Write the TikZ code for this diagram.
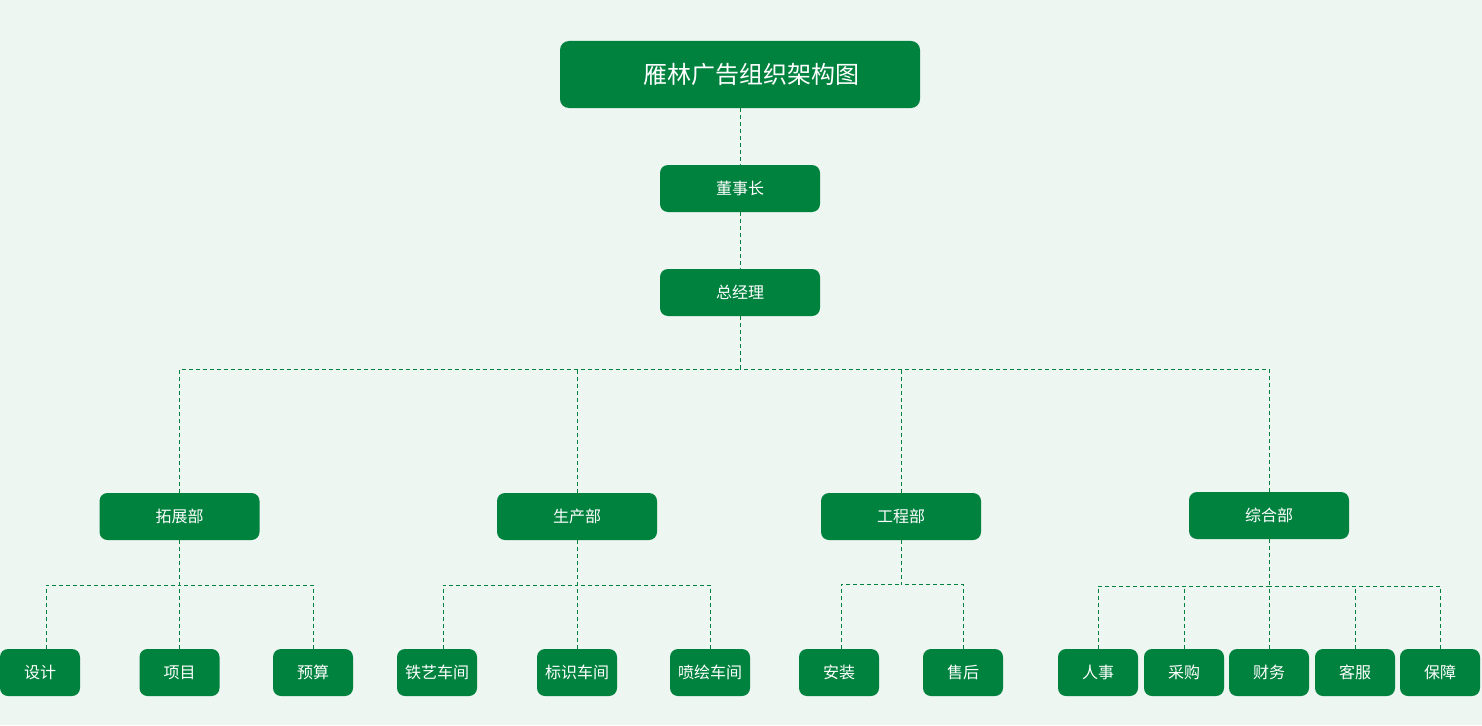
\documentclass[tikz,border=0pt]{standalone}
\usepackage{fontspec}
\setmainfont{Noto Sans CJK SC}
\usepackage{tikz}
\usetikzlibrary{calc,positioning}
\definecolor{orggreen}{HTML}{00823F}
\definecolor{bgmint}{HTML}{EDF6F0}

\begin{document}
\begin{tikzpicture}[
x=1pt,y=-1pt,
box/.style={
	fill=orggreen,
	rounded corners=8pt,
	text=white,
	minimum height=47pt,
	inner sep=0pt,
	font=\fontsize{16}{18}\selectfont
},
head/.style={
	box,
	minimum width=160pt
},
leaf/.style={
	box,
	minimum width=80pt
},
titlebox/.style={
	box,
	minimum width=360pt,
	minimum height=67pt,
	rounded corners=9pt,
	font=\fontsize{24}{28}\selectfont
},
link/.style={
	draw=orggreen,
	line width=1pt,
	dash pattern=on 4pt off 3pt
}
]
\fill[bgmint] (0,0) rectangle (1482,725);

\node[titlebox] (title) at (740,74.5) {\hspace{22pt}雁林广告组织架构图};
\node[head] (dsz) at (740,188.5) {董事长};
\node[head] (zjl) at (740,292.5) {总经理};

\foreach \n/\x/\y/\t in {tz/179.5/516.5/拓展部,sc/577/516.5/生产部,gc/901/516.5/工程部,zh/1269/515.5/综合部}
\node[head] (\n) at (\x,\y) {\t};

\foreach \n/\x/\t in {sj/40/设计,xm/179.5/项目,ys/313/预算,ty/437/铁艺车间,bs/577/标识车间,ph/710/喷绘车间,az/839/安装,sh/963/售后,rs/1098/人事,cg/1184/采购,cw/1269/财务,kf/1355/客服,bz/1440/保障}
\node[leaf] (\n) at (\x,672.5) {\t};

\coordinate (b0) at (740,369);
\coordinate (b1) at (179.5,585);
\coordinate (b2) at (577,585);
\coordinate (b3) at (901,584);
\coordinate (b4) at (1269,586);

\draw[link] (title) -- (dsz);
\draw[link] (dsz) -- (zjl);
\draw[link] (zjl) -- (b0);
\draw[link] (tz.north) |- (b0);
\draw[link] (zh.north) |- (b0);
\draw[link] (sc.north) -- (sc.north |- b0);
\draw[link] (gc.north) -- (gc.north |- b0);

%\draw[link] (sj.north) |- (b1);
\draw[link] (tz) -- (b1);
\draw[link] ([xshift=6pt]sj.north) |- (b1);
\draw[link] (ys.north) |- (b1);
\draw[link] (xm.north) -- (xm.north |- b1);

\draw[link] (sc) -- (b2);
\draw[link] ([xshift=6pt]ty.north) |- (b2);
\draw[link] (ph.north) |- (b2);
\draw[link] (bs.north) -- (bs.north |- b2);

\draw[link] (gc) -- (b3);
\draw[link] ([xshift=2pt]az.north) |- (b3);
\draw[link] (sh.north) |- (b3);

\draw[link] (zh) -- (b4);
\draw[link] (rs.north) |- (b4);
\draw[link] (bz.north) |- (b4);
\draw[link] (cg.north) -- (cg.north |- b4);
\draw[link] (kf.north) -- (kf.north |- b4);
\draw[link] (cw.north) -- (cw.north |- b4);
\end{tikzpicture}
\end{document}
